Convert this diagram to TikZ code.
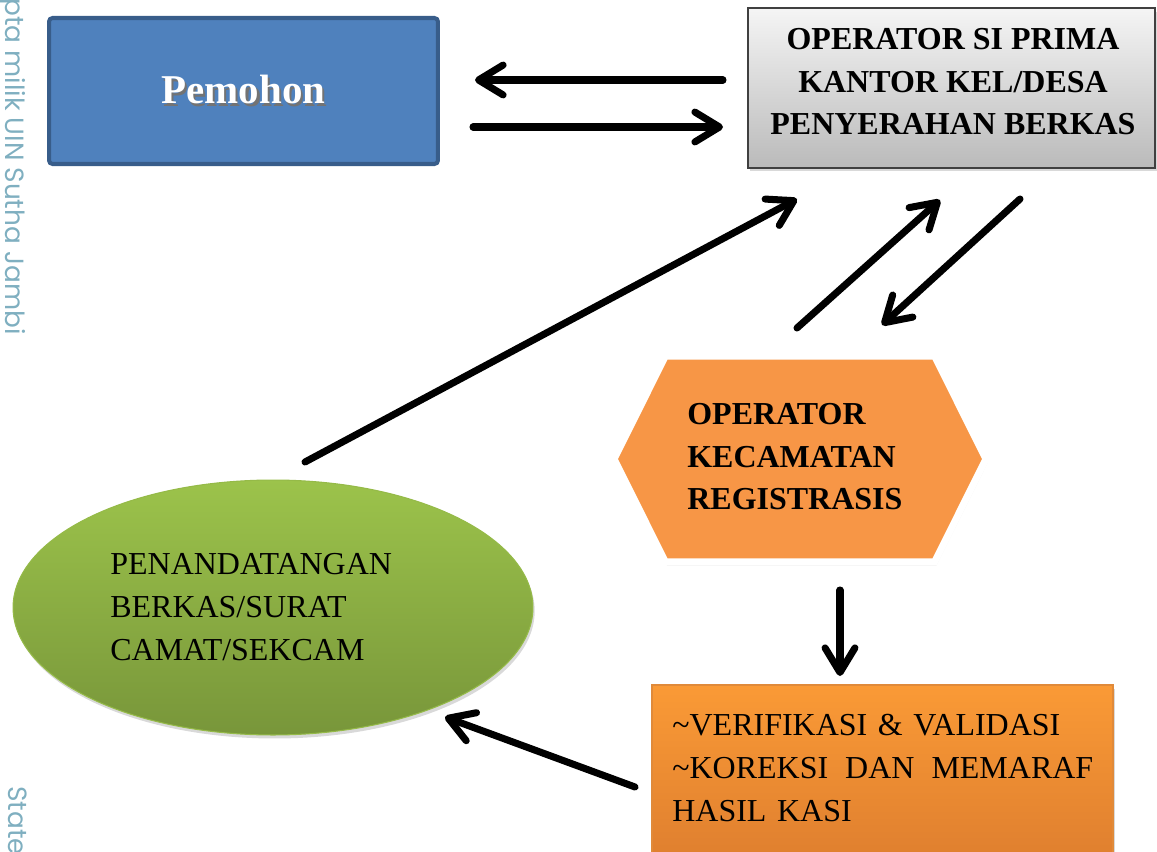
\documentclass[tikz,border=0pt]{standalone}
\usepackage{fontspec}
\setmainfont{Liberation Serif}
\newfontfamily\markfont{Poppins}
\usetikzlibrary{arrows.meta,shapes.geometric,shapes.symbols,shadows}
\definecolor{pemfill}{HTML}{4F81BD}
\definecolor{pemedge}{HTML}{385D8A}
\definecolor{hexfill}{HTML}{F79646}
\definecolor{elltop}{HTML}{9CC34B}
\definecolor{ellbottom}{HTML}{78963A}
\definecolor{boxtop}{HTML}{FA9A36}
\definecolor{boxbottom}{HTML}{DC7C2E}
\definecolor{boxedge}{HTML}{E08A3A}
\definecolor{markcol}{HTML}{7FAFC0}
\newcommand{\shadowed}[1]{\makebox[0pt][l]{\kern1.2pt\raisebox{-1.2pt}{\textcolor{black!55}{#1}}}#1}
\tikzset{
  flow/.style={draw=black, line width=4pt, line cap=round, -{Straight Barb[length=14pt, width=17pt, round]}},
  boldtext/.style={inner sep=0pt, font=\fontsize{18.2pt}{24.2pt}\selectfont\bfseries},
  plaintext/.style={inner sep=0pt, font=\fontsize{18.2pt}{24.4pt}\selectfont},
  softshadow/.style={drop shadow={opacity=0.3, shadow xshift=1pt, shadow yshift=-2pt}}
}
\begin{document}
\begin{tikzpicture}[x=0.02cm, y=-0.02cm]
\useasboundingbox (0,0) rectangle (1157,852);
% watermark on the left edge
\node[rotate=-90, anchor=base west, inner sep=0pt, text=markcol, font=\markfont\fontsize{15pt}{15pt}\selectfont] (mark1) at (6,-2) {pta milik UIN Sutha Jambi};
\node[rotate=-90, anchor=base west, inner sep=0pt, text=markcol, font=\markfont\fontsize{15pt}{15pt}\selectfont] (mark2) at (9,786) {State};
% boxes
\node[shape=rectangle, fill=pemfill, draw=pemedge, line width=2.3pt, rounded corners=2pt, minimum width=7.78cm, minimum height=2.92cm, text=white, font=\fontsize{23.3pt}{28pt}\selectfont\bfseries] (pemohon) at (243.5,91) {\shadowed{Pemohon}};
\node[shape=rectangle, top color=black!4, bottom color=black!27, draw=black!75, line width=1.2pt, minimum width=8.14cm, minimum height=3.2cm, softshadow] (operator) at (951.5,88) {};
\node[boldtext, align=center] (operatortext) at (953,82) {OPERATOR SI PRIMA\\KANTOR KEL/DESA\\PENYERAHAN BERKAS};
\node[shape=signal, signal to=west and east, signal pointer angle=127, fill=hexfill, draw=white, line width=4pt, minimum width=7.44cm, minimum height=4.12cm, inner sep=0pt, softshadow] (kecamatan) at (800,459) {};
\node[boldtext, align=left, anchor=west] (kecamatantext) at (687,457) {OPERATOR\\KECAMATAN\\REGISTRASIS};
\node[shape=ellipse, top color=elltop, bottom color=ellbottom, draw=elltop!80!ellbottom, line width=0.6pt, minimum width=10.4cm, minimum height=5.1cm, inner sep=0pt, softshadow] (camat) at (273,607.5) {};
\node[plaintext, align=left, anchor=west] (camattext) at (110,607) {PENANDATANGAN\\BERKAS/SURAT\\CAMAT/SEKCAM};
\node[shape=rectangle, top color=boxtop, bottom color=boxbottom, draw=boxedge, line width=0.8pt, minimum width=9.22cm, minimum height=3.9cm, softshadow] (verifikasi) at (882.5,782.5) {};
\node[plaintext, text width=8.42cm, align=left, anchor=west] (verifikasitext) at (672,768) {\textasciitilde VERIFIKASI \& VALIDASI\\\makebox[8.42cm][l]{\textasciitilde KOREKSI\hfill DAN\hfill MEMARAF}\\HASIL KASI};
% arrow ends
\coordinate (opLeftHi) at (723,80);
\coordinate (pemRightHi) at (475,80);
\coordinate (pemRightLo) at (473,127);
\coordinate (opLeftLo) at (723,127);
\coordinate (camatTop) at (305,462);
\coordinate (opBottomL) at (797,199);
\coordinate (kecTopL) at (797,328);
\coordinate (opBottomM) at (940,200);
\coordinate (opBottomR) at (1020,199);
\coordinate (kecTopR) at (882,325);
\coordinate (kecBottom) at (840,590);
\coordinate (verTop) at (840,676);
\coordinate (verLeft) at (635,787);
\coordinate (camatBottom) at (445,717);
% arrows
\path (opLeftHi) edge [flow] (pemRightHi);
\path (pemRightLo) edge [flow] (opLeftLo);
\path (camatTop) edge [flow] (opBottomL);
\path (kecTopL) edge [flow] (opBottomM);
\path (opBottomR) edge [flow] (kecTopR);
\path (kecBottom) edge [flow] (verTop);
\path (verLeft) edge [flow] (camatBottom);
\end{tikzpicture}
\end{document}
